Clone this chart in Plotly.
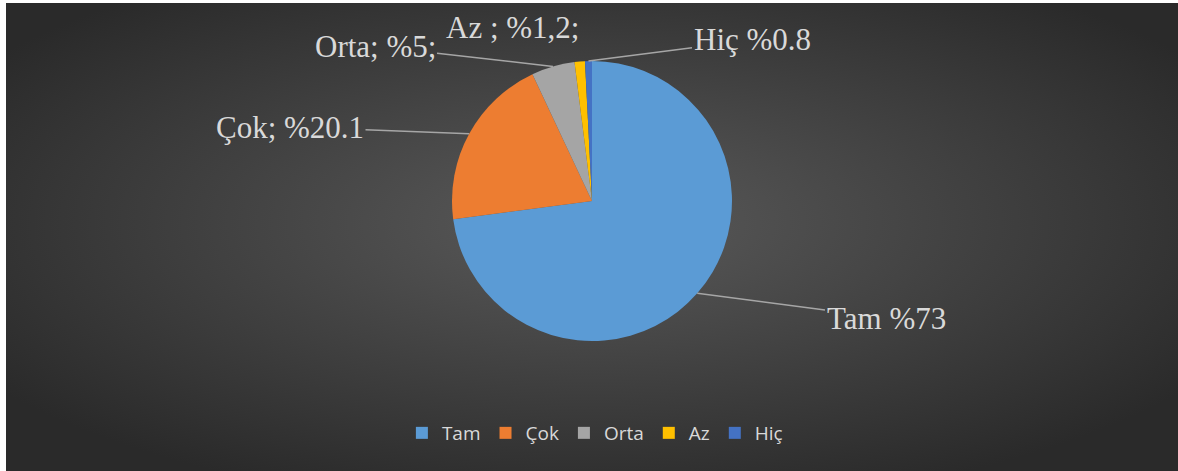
import base64
import math
import plotly.graph_objects as go

categories = ["Tam", "Çok", "Orta", "Az", "Hiç"]
values = [73, 20.1, 5, 1.2, 0.8]
label_texts = ["Tam %73", "Çok; %20.1", "Orta; %5;", "Az ; %1,2;", "Hiç %0.8"]
colors = ["#5b9bd5", "#ed7d31", "#a5a5a5", "#ffc000", "#4472c4"]

W, H = 1178, 471
CX, CY, R = 592, 201, 140  # pie centre / radius in pixels

# label centre positions (pixels) and whether a leader line is drawn
label_pos = [(886, 318), (290, 127), (375, 46), (512, 28), (752, 40)]
label_line = [True, True, True, False, True]

svg = (
    '<svg xmlns="http://www.w3.org/2000/svg" width="1172" height="468" preserveAspectRatio="none">'
    '<defs><radialGradient id="g" cx="50%" cy="47%" r="62%">'
    '<stop offset="0" stop-color="#5a5a5a"/><stop offset="1" stop-color="#2a2a2a"/>'
    '</radialGradient></defs><rect width="1172" height="468" fill="url(#g)"/></svg>'
)
bg_src = "data:image/svg+xml;base64," + base64.b64encode(svg.encode()).decode()

fig = go.Figure()
fig.add_trace(go.Pie(
    labels=categories,
    values=values,
    textinfo="none",
    sort=False,
    direction="clockwise",
    rotation=0,
    automargin=False,
    marker=dict(colors=colors, line=dict(width=0)),
    domain=dict(x=[(CX - R) / W, (CX + R) / W], y=[1 - (CY + R) / H, 1 - (CY - R) / H]),
    hoverinfo="label+percent",
))

# leader-line labels anchored on the slice edges (mid-angle computed from the values)
total = sum(values)
cum = 0.0
annotations = []
for v, txt, (lx, ly), line in zip(values, label_texts, label_pos, label_line):
    mid = (cum + v / 2) / total * 2 * math.pi
    cum += v
    px = CX + R * math.sin(mid)
    py = CY - R * math.cos(mid)
    annotations.append(dict(
        x=px / W, y=1 - py / H, xref="paper", yref="paper",
        ax=lx - px, ay=ly - py, axref="pixel", ayref="pixel",
        text=txt, showarrow=True, arrowhead=0, arrowwidth=1.5,
        arrowcolor="#a6a6a6" if line else "rgba(0,0,0,0)",
        font=dict(family="Liberation Serif", size=31, color="#d9d9d9"),
    ))

fig.update_layout(
    width=W, height=H,
    margin=dict(l=0, r=0, t=0, b=0, autoexpand=False),
    paper_bgcolor="white",
    plot_bgcolor="rgba(0,0,0,0)",
    images=[dict(source=bg_src, xref="paper", yref="paper", x=6 / W, y=1 - 3 / H,
                 sizex=1 - 6 / W, sizey=1 - 3 / H, xanchor="left", yanchor="top",
                 sizing="stretch", layer="below")],
    annotations=annotations,
    showlegend=True,
    legend=dict(orientation="h", x=0.505, xanchor="center", y=1 - 433 / H, yanchor="middle",
                font=dict(family="Open Sans", size=19, color="#d9d9d9"),
                bgcolor="rgba(0,0,0,0)", itemwidth=30),
)

fig.write_html("out.html")
